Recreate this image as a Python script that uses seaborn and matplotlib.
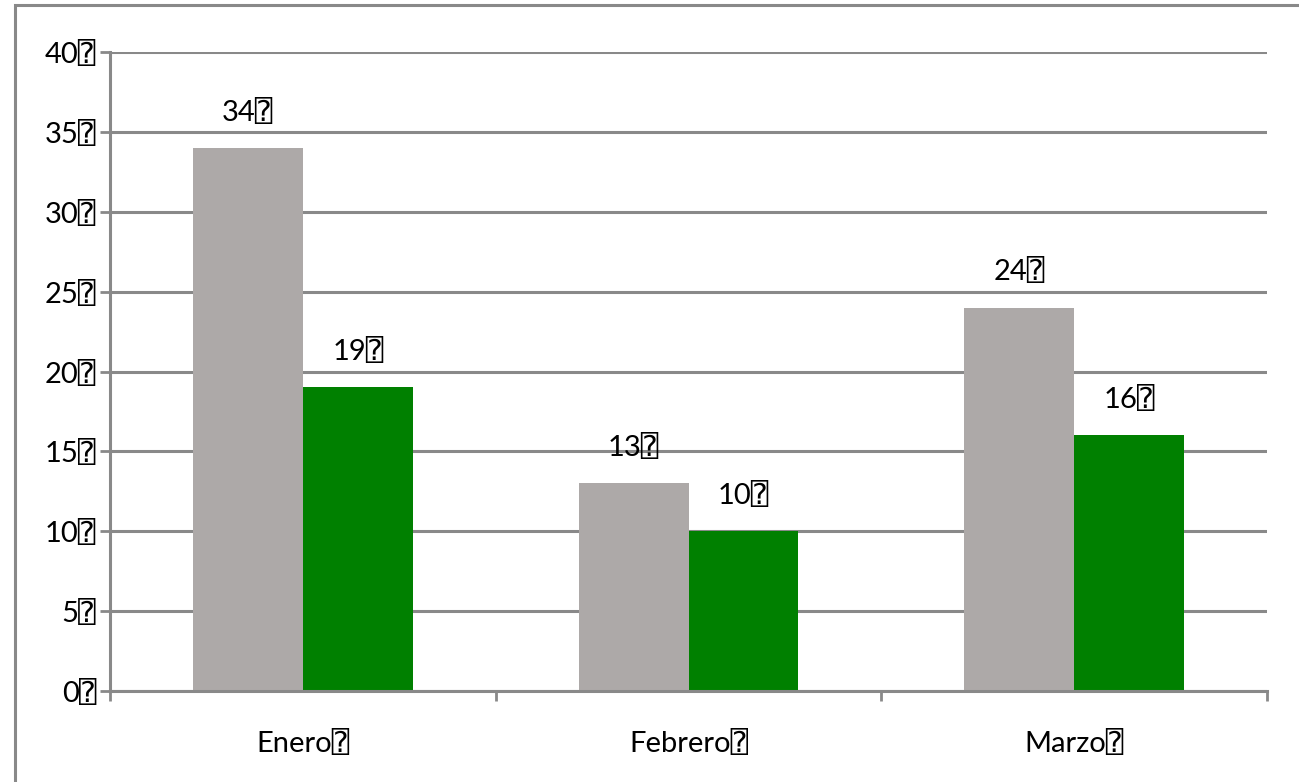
import pandas as pd
import matplotlib.pyplot as plt
import seaborn as sns
from matplotlib.patches import Rectangle
from matplotlib.ticker import FixedLocator

# Valores
meses = ["Enero", "Febrero", "Marzo"]
serie_gris = [34, 13, 24]
serie_verde = [19, 10, 16]
series = ["Serie 1", "Serie 2"]
marca = "\u2370"  # caja con interrogación que aparece tras cada etiqueta

df = pd.DataFrame({
    "Mes": meses * 2,
    "Serie": [series[0]] * 3 + [series[1]] * 3,
    "Valor": serie_gris + serie_verde,
})

sns.set_style("white")
plt.rcParams["font.family"] = ["Lato", "DejaVu Sans", "DejaVu Sans Mono"]
plt.rcParams["text.color"] = "black"
plt.rcParams["xtick.color"] = "black"
plt.rcParams["ytick.color"] = "black"

gris = "#898989"
fig = plt.figure(figsize=(12.99, 7.82), dpi=100)
ax = fig.add_axes([110 / 1299, 1 - 691 / 782, (1267 - 110) / 1299, (691 - 52) / 782])

sns.barplot(
    data=df, x="Mes", y="Valor", hue="Serie",
    palette=["#ADA9A8", "#008000"], width=0.57, gap=0,
    saturation=1, legend=False, linewidth=0, ax=ax,
)

for cont in ax.containers:
    ax.bar_label(cont, labels=[f"{v:g}{marca}" for v in cont.datavalues],
                 padding=16, fontsize=21, color="black")

ax.set_ylim(0, 40)
ax.set_xlim(-0.5, 2.5)
ax.set_yticks(range(0, 41, 5))
ax.set_yticklabels([f"{v}{marca}" for v in range(0, 41, 5)], fontsize=21)
ax.set_xticks(range(3))
ax.set_xticklabels([f"{m}{marca}" for m in meses], fontsize=21)
ax.xaxis.set_minor_locator(FixedLocator([-0.5, 0.5, 1.5, 2.5]))
ax.tick_params(axis="x", which="major", length=0, pad=28, labelcolor="black")
ax.tick_params(axis="x", which="minor", length=7, width=2, color=gris,
               direction="out", bottom=True)
ax.tick_params(axis="y", length=7, width=2, color=gris, direction="out",
               pad=3, left=True, labelcolor="black")
ax.set_xlabel("")
ax.set_ylabel("")

ax.grid(axis="y", color=gris, linewidth=2.2)
ax.set_axisbelow(True)
for s in ["top", "right"]:
    ax.spines[s].set_visible(False)
for s in ["left", "bottom"]:
    ax.spines[s].set_color(gris)
    ax.spines[s].set_linewidth(2.2)

# marco exterior del gráfico
fig.patches.append(Rectangle((15 / 1299, -0.1), 1.2, 1 - 5 / 782 + 0.1,
                             transform=fig.transFigure, fill=False,
                             edgecolor=gris, linewidth=2.2))

fig.savefig("out.png", dpi=100)
